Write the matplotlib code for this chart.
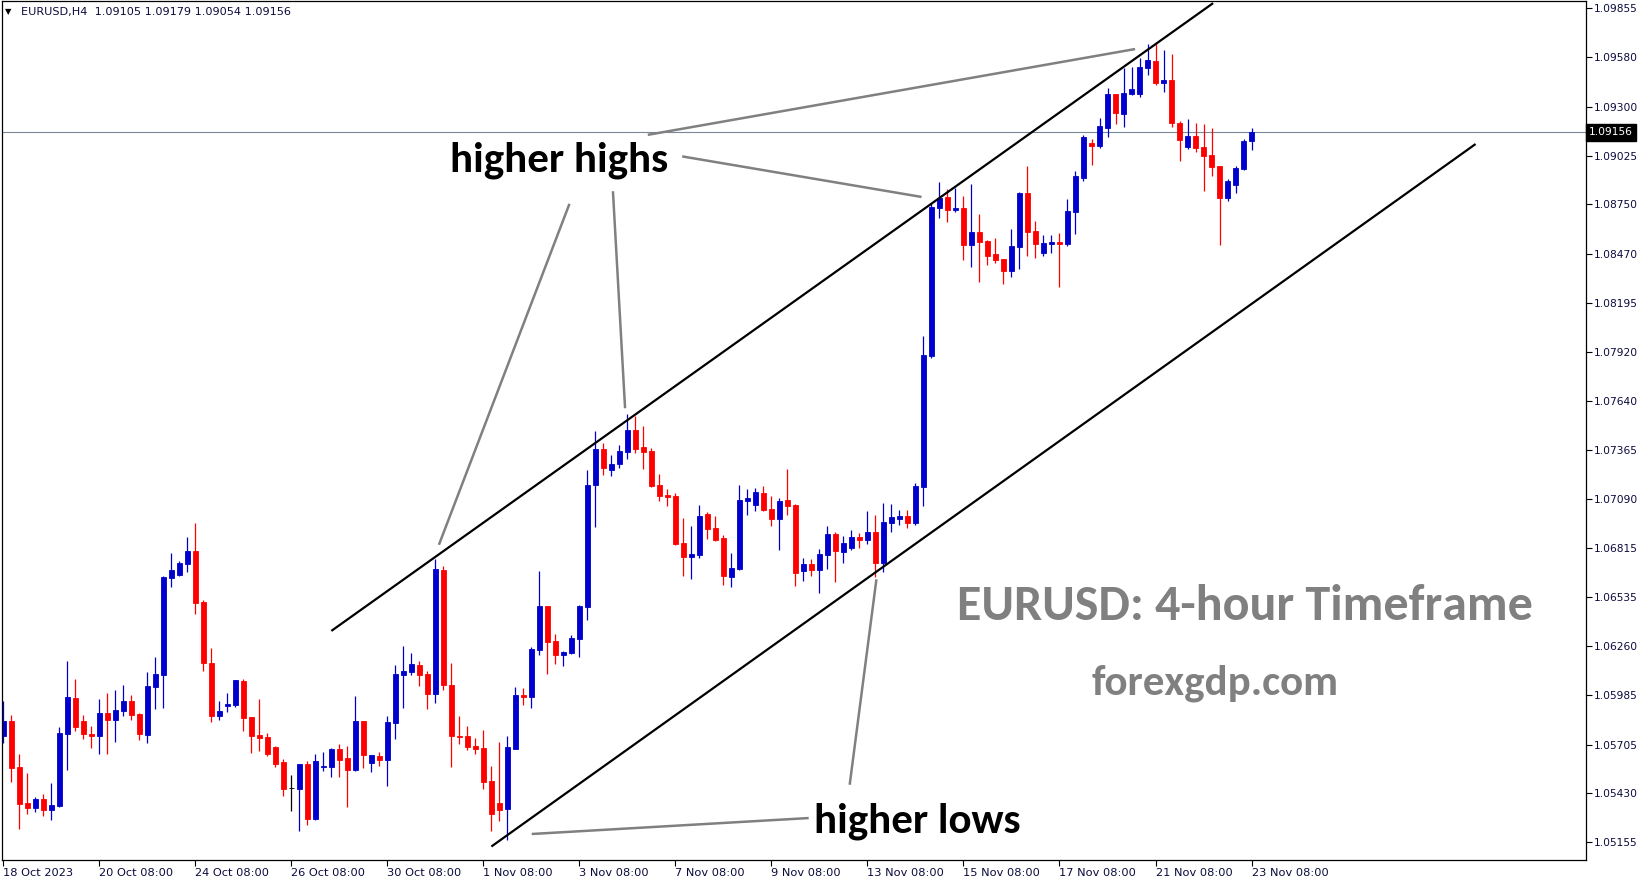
import matplotlib
matplotlib.use("Agg")
import matplotlib.pyplot as plt
import matplotlib.transforms as mtransforms

# EURUSD H4 candles (bar 0 = leftmost visible)
opens = [
    1.05756, 1.05838, 1.05579, 1.05376, 1.05350, 1.05399, 1.05339, 1.05361, 1.05767, 1.05968,
    1.05838, 1.05764, 1.05756, 1.05884, 1.05846, 1.05897, 1.05951, 1.05878, 1.05761, 1.06032,
    1.06099, 1.06646, 1.06663, 1.06725, 1.06797, 1.06509, 1.06165, 1.05868, 1.05925, 1.05930,
    1.06064, 1.05861, 1.05760, 1.05748, 1.05692, 1.05609, 1.05459, 1.05457, 1.05596, 1.05288,
    1.05579, 1.05581, 1.05681, 1.05630, 1.05564, 1.05838, 1.05603, 1.05641, 1.05620, 1.05829,
    1.06099, 1.06116, 1.06154, 1.06103, 1.05992, 1.06690, 1.06041, 1.05754, 1.05754, 1.05698,
    1.05686, 1.05500, 1.05376, 1.05344, 1.05682, 1.05985, 1.05975, 1.06240, 1.06487, 1.06289,
    1.06212, 1.06223, 1.06302, 1.06483, 1.07170, 1.07371, 1.07255, 1.07289, 1.07356, 1.07479,
    1.07381, 1.07360, 1.07169, 1.07112, 1.07107, 1.06842, 1.06764, 1.06776, 1.07005, 1.06926,
    1.06870, 1.06652, 1.06695, 1.07078, 1.07056, 1.07124, 1.07033, 1.06977, 1.07084, 1.07056,
    1.06684, 1.06723, 1.06690, 1.06774, 1.06892, 1.06793, 1.06815, 1.06876, 1.06860, 1.06904,
    1.06731, 1.06956, 1.06979, 1.06994, 1.06956, 1.07159, 1.07897, 1.08731, 1.08792, 1.08720,
    1.08730, 1.08523, 1.08594, 1.08544, 1.08471, 1.08442, 1.08376, 1.08512, 1.08814, 1.08600,
    1.08478, 1.08529, 1.08538, 1.08529, 1.08709, 1.08901, 1.09096, 1.09081, 1.09182, 1.09372,
    1.09261, 1.09374, 1.09374, 1.09520, 1.09558, 1.09436, 1.09451, 1.09209, 1.09075, 1.09136,
    1.09074, 1.09028, 1.08966, 1.08788, 1.08861, 1.08951, 1.09105,
]
highs = [
    1.05951, 1.05872, 1.05652, 1.05545, 1.05410, 1.05429, 1.05489, 1.05805, 1.06177, 1.06075,
    1.05872, 1.05810, 1.05962, 1.05998, 1.06013, 1.06041, 1.05985, 1.05884, 1.06115, 1.06199,
    1.06656, 1.06785, 1.06740, 1.06876, 1.06954, 1.06520, 1.06252, 1.05951, 1.05996, 1.06070,
    1.06075, 1.05861, 1.05962, 1.05771, 1.05699, 1.05624, 1.05534, 1.05596, 1.05613, 1.05652,
    1.05664, 1.05686, 1.05709, 1.05698, 1.05979, 1.05838, 1.05647, 1.05664, 1.05867, 1.06154,
    1.06261, 1.06222, 1.06177, 1.06120, 1.06752, 1.06712, 1.06165, 1.05867, 1.05810, 1.05743,
    1.05788, 1.05585, 1.05722, 1.05756, 1.06032, 1.06024, 1.06256, 1.06684, 1.06487, 1.06329,
    1.06235, 1.06323, 1.06492, 1.07253, 1.07473, 1.07405, 1.07338, 1.07394, 1.07569, 1.07557,
    1.07501, 1.07375, 1.07231, 1.07146, 1.07124, 1.06983, 1.06938, 1.07056, 1.07016, 1.06994,
    1.06887, 1.06785, 1.07169, 1.07146, 1.07152, 1.07163, 1.07107, 1.07095, 1.07259, 1.07061,
    1.06757, 1.06752, 1.06808, 1.06938, 1.06904, 1.06881, 1.06915, 1.06898, 1.07022, 1.06999,
    1.07067, 1.07061, 1.07028, 1.07028, 1.07180, 1.08008, 1.08758, 1.08876, 1.08837, 1.08842,
    1.08797, 1.08865, 1.08696, 1.08550, 1.08561, 1.08442, 1.08611, 1.08820, 1.08966, 1.08656,
    1.08578, 1.08578, 1.08589, 1.08780, 1.08938, 1.09141, 1.09119, 1.09237, 1.09406, 1.09372,
    1.09519, 1.09524, 1.09575, 1.09654, 1.09654, 1.09620, 1.09598, 1.09220, 1.09231, 1.09209,
    1.09203, 1.09181, 1.08966, 1.08893, 1.08966, 1.09119, 1.09179,
]
lows = [
    1.05713, 1.05496, 1.05231, 1.05316, 1.05327, 1.05305, 1.05282, 1.05354, 1.05564, 1.05782,
    1.05737, 1.05686, 1.05654, 1.05654, 1.05722, 1.05868, 1.05846, 1.05733, 1.05716, 1.05908,
    1.05913, 1.06595, 1.06657, 1.06680, 1.06443, 1.06122, 1.05835, 1.05846, 1.05891, 1.05919,
    1.05782, 1.05658, 1.05669, 1.05643, 1.05579, 1.05417, 1.05333, 1.05220, 1.05254, 1.05282,
    1.05558, 1.05525, 1.05525, 1.05355, 1.05558, 1.05575, 1.05553, 1.05587, 1.05474, 1.05739,
    1.05913, 1.06099, 1.06037, 1.05908, 1.05942, 1.06015, 1.05581, 1.05710, 1.05677, 1.05654,
    1.05457, 1.05220, 1.05277, 1.05169, 1.05682, 1.05928, 1.05913, 1.06212, 1.06105, 1.06161,
    1.06150, 1.06218, 1.06201, 1.06409, 1.06934, 1.07227, 1.07221, 1.07266, 1.07317, 1.07351,
    1.07260, 1.07159, 1.07080, 1.07052, 1.06830, 1.06657, 1.06640, 1.06759, 1.06866, 1.06855,
    1.06607, 1.06595, 1.06691, 1.06999, 1.07024, 1.07024, 1.06938, 1.06802, 1.06999, 1.06601,
    1.06628, 1.06657, 1.06562, 1.06697, 1.06624, 1.06731, 1.06804, 1.06815, 1.06838, 1.06652,
    1.06680, 1.06905, 1.06945, 1.06928, 1.06945, 1.07052, 1.07886, 1.08675, 1.08653, 1.08709,
    1.08438, 1.08399, 1.08314, 1.08410, 1.08421, 1.08303, 1.08343, 1.08388, 1.08461, 1.08450,
    1.08461, 1.08478, 1.08283, 1.08517, 1.08585, 1.08884, 1.08974, 1.09068, 1.09132, 1.09205,
    1.09188, 1.09368, 1.09357, 1.09481, 1.09425, 1.09385, 1.09188, 1.08996, 1.09064, 1.09047,
    1.08827, 1.08912, 1.08523, 1.08771, 1.08816, 1.08946, 1.09054,
]
closes = [
    1.05838, 1.05575, 1.05372, 1.05350, 1.05399, 1.05339, 1.05365, 1.05771, 1.05974, 1.05805,
    1.05767, 1.05756, 1.05884, 1.05846, 1.05900, 1.05951, 1.05874, 1.05767, 1.06036, 1.06103,
    1.06650, 1.06690, 1.06729, 1.06797, 1.06505, 1.06167, 1.05868, 1.05895, 1.05936, 1.06070,
    1.05857, 1.05756, 1.05744, 1.05654, 1.05598, 1.05457, 1.05459, 1.05596, 1.05288, 1.05613,
    1.05587, 1.05681, 1.05620, 1.05564, 1.05838, 1.05649, 1.05647, 1.05620, 1.05833, 1.06103,
    1.06120, 1.06160, 1.06099, 1.05992, 1.06695, 1.06043, 1.05756, 1.05748, 1.05694, 1.05682,
    1.05496, 1.05316, 1.05339, 1.05692, 1.05985, 1.05975, 1.06244, 1.06487, 1.06285, 1.06212,
    1.06229, 1.06306, 1.06487, 1.07169, 1.07371, 1.07266, 1.07287, 1.07360, 1.07479, 1.07373,
    1.07356, 1.07165, 1.07108, 1.07101, 1.06836, 1.06764, 1.06780, 1.06994, 1.06922, 1.06859,
    1.06657, 1.06701, 1.07084, 1.07095, 1.07129, 1.07028, 1.06977, 1.07078, 1.07050, 1.06673,
    1.06723, 1.06690, 1.06780, 1.06892, 1.06797, 1.06842, 1.06876, 1.06860, 1.06904, 1.06731,
    1.06960, 1.06988, 1.06994, 1.06956, 1.07163, 1.07901, 1.08735, 1.08786, 1.08720, 1.08730,
    1.08523, 1.08594, 1.08540, 1.08461, 1.08438, 1.08376, 1.08516, 1.08814, 1.08596, 1.08529,
    1.08533, 1.08538, 1.08529, 1.08713, 1.08910, 1.09130, 1.09081, 1.09192, 1.09372, 1.09267,
    1.09378, 1.09400, 1.09524, 1.09564, 1.09436, 1.09451, 1.09211, 1.09115, 1.09136, 1.09070,
    1.09025, 1.08963, 1.08788, 1.08882, 1.08955, 1.09107, 1.09156,
]

date_ticks = list(range(0, 157, 12))
date_labels = ["18 Oct 2023", "20 Oct 08:00", "24 Oct 08:00", "26 Oct 08:00", "30 Oct 08:00",
               "1 Nov 08:00", "3 Nov 08:00", "7 Nov 08:00", "9 Nov 08:00", "13 Nov 08:00",
               "15 Nov 08:00", "17 Nov 08:00", "21 Nov 08:00", "23 Nov 08:00"]
price_ticks = [1.09855, 1.09580, 1.09300, 1.09025, 1.08750, 1.08470, 1.08195, 1.07920, 1.07640,
               1.07365, 1.07090, 1.06815, 1.06535, 1.06260, 1.05985, 1.05705, 1.05430, 1.05155]
last_price = 1.09156

# channel lines: (bar, price) end points
upper_channel = [(41.0, 1.06346), (151.2, 1.09884)]
lower_channel = [(61.0, 1.05131), (184.0, 1.09090)]
# grey pointer lines from the labels to the swing points
pointers = [
    [(80.7, 1.09143), (141.3, 1.09624)],
    [(85.0, 1.09019), (114.6, 1.08793)],
    [(70.7, 1.08746), (54.5, 1.06838)],
    [(76.2, 1.08817), (77.7, 1.07608)],
    [(66.2, 1.05202), (100.5, 1.05291)],
    [(109.1, 1.06630), (105.8, 1.05486)],
]

W, H = 1649, 884
fig = plt.figure(figsize=(W / 100, H / 100), dpi=100)
ax = fig.add_axes([2 / W, 24 / H, 1584 / W, 859 / H])
ax.set_xlim(-0.16, 197.8)
ax.set_ylim(1.05055, 1.09896)

blue, red = "#0000cd", "#ff0000"
xs = range(len(opens))
cols = []
for o, c in zip(opens, closes):
    cols.append(blue if c > o else (red if c < o else "black"))

ax.axhline(last_price, color="#778899", lw=0.8, zorder=1)
ax.vlines(xs, lows, highs, colors=cols, lw=0.9, zorder=2)
bottoms = [min(o, c) for o, c in zip(opens, closes)]
heights = [abs(c - o) for o, c in zip(opens, closes)]
ax.bar(xs, heights, bottom=bottoms, width=0.6, color=cols, edgecolor=cols, lw=0.6, zorder=2)

for (x0, y0), (x1, y1) in (upper_channel, lower_channel):
    ax.plot([x0, x1], [y0, y1], color="black", lw=1.6, zorder=3, solid_capstyle="butt")
for (x0, y0), (x1, y1) in pointers:
    ax.plot([x0, x1], [y0, y1], color="#808080", lw=1.8, zorder=3)

# axes styling
for s in ax.spines.values():
    s.set_color("black")
    s.set_linewidth(0.9)
ax.yaxis.tick_right()
ax.set_yticks(price_ticks)
ax.set_yticklabels([f"{p:.5f}" for p in price_ticks])
ax.set_xticks(date_ticks)
ax.set_xticklabels(date_labels, ha="left")
ax.tick_params(axis="both", direction="out", length=4, width=0.8, colors="black",
               labelcolor="#0a0a3c", pad=2)
ax.tick_params(axis="y", labelsize=7.7)
ax.tick_params(axis="x", labelsize=8.2, pad=1.5)

# current price box on the right axis
ax.annotate(f"{last_price:.5f}", xy=(1.0, last_price),
            xycoords=mtransforms.blended_transform_factory(ax.transAxes, ax.transData),
            xytext=(2, 0), textcoords="offset points", va="center", ha="left",
            fontsize=7.7, color="white",
            bbox=dict(boxstyle="square,pad=0.3", fc="black", ec="black"))

# header
fig.text(5 / W, 1 - 12 / H, "\u25bc", fontsize=6, color="black", va="center")
fig.text(21 / W, 1 - 12 / H, "EURUSD,H4  1.09105 1.09179 1.09054 1.09156",
         fontsize=8.1, color="#0a0a3c", va="center")

# annotations
big = ["Carlito", "Fira Sans Condensed", "DejaVu Sans"]
fig.text(559 / W, 1 - 171.5 / H, "higher highs", family=big, weight="bold", fontsize=31,
         color="black", ha="center", va="baseline")
fig.text(917 / W, 1 - 832 / H, "higher lows", family=big, weight="bold", fontsize=31,
         color="black", ha="center", va="baseline")
fig.text(1245 / W, 1 - 619.5 / H, "EURUSD: 4-hour Timeframe", family=big, weight="bold",
         fontsize=36, color="#808080", ha="center", va="baseline")
fig.text(1214.7 / W, 1 - 694 / H, "forexgdp.com", family=big, weight="bold", fontsize=31,
         color="#808080", ha="center", va="baseline")

fig.savefig("out.png", dpi=100)
